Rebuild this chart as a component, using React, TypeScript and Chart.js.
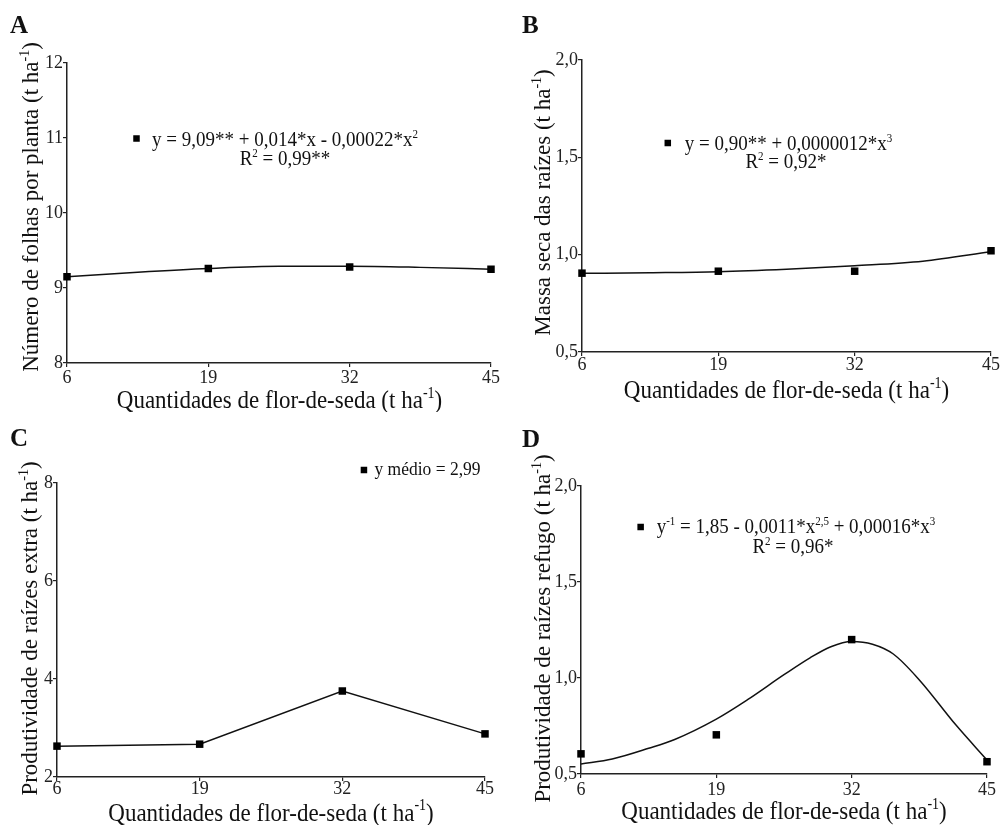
import React, { useEffect, useRef } from "react";
import Chart from "chart.js/auto";

const FONT = '"Liberation Serif", "Times New Roman", Times, serif';
const INK = "#111";

// ---- data ----
const xTicks = [6, 19, 32, 45];

const obsA = [9.15, 9.26, 9.28, 9.25];
const fitXA = [6, 12.5, 19, 25.5, 32, 38.5, 45];
const fitYA = [9.15, 9.21, 9.26, 9.29, 9.29, 9.275, 9.25];

const obsB = [0.905, 0.915, 0.915, 1.02];
const fitXB = [6, 12.5, 19, 25.5, 32, 38.5, 45];
const fitYB = [0.904, 0.907, 0.912, 0.925, 0.943, 0.966, 1.015];

const obsC = [2.63, 2.67, 3.755, 2.88];

const obsD = [0.605, 0.704, 1.2, 0.564];
const fitXD = [6, 9, 12.5, 15, 19, 22, 25.5, 28, 30, 32, 34, 36, 38.5, 42, 45];
const fitYD = [0.552, 0.578, 0.634, 0.68, 0.786, 0.887, 1.017, 1.105, 1.163, 1.19, 1.176, 1.125, 0.99, 0.756, 0.573];

const yTicksA = [8, 12, 1];
const yTicksB = [0.5, 2.0, 0.5];
const yTicksC = [2, 8, 2];
const yTicksD = [0.5, 2.0, 0.5];

// ---- texts ----
const xTitle = "Quantidades de flor-de-seda (t ha";
const yTitleA = "Número de folhas por planta (t ha";
const yTitleB = "Massa seca das raízes (t ha";
const yTitleC = "Produtividade de raízes extra (t ha";
const yTitleD = "Produtividade de raízes refugo (t ha";

type Seg = [string, number?];

const eqA: Seg[][] = [
  [["y = 9,09** + 0,014*x - 0,00022*x"], ["2", 1]],
  [["R"], ["2", 1], [" = 0,99**"]],
];
const eqB: Seg[][] = [
  [["y = 0,90** + 0,0000012*x"], ["3", 1]],
  [["R"], ["2", 1], [" = 0,92*"]],
];
const eqC: Seg[][] = [[["y médio = 2,99"]]];
const eqD: Seg[][] = [
  [["y"], ["-1", 1], [" = 1,85 - 0,0011*x"], ["2,5", 1], [" + 0,00016*x"], ["3", 1]],
  [["R"], ["2", 1], [" = 0,96*"]],
];

const panels = [
  {
    key: "A", left: 0, top: 0, w: 500, h: 412,
    pad: { left: 0, top: 63, right: 9, bottom: 0 }, yW: 67, xH: 49, xTickPad: 2,
    yr: yTicksA, dec: 0, obs: obsA, fitX: fitXA, fitY: fitYA, connect: false,
    yTitle: yTitleA, yTitleX: 38, yTitleCy: 207, xTitleCx: 279.5, xTitleY: 408,
    letterX: 10, letterY: 33,
    eq: eqA, eqSize: 19, eqCx: [285, 285], eqY: [146, 165], markerGap: 15.5, markerDy: -7.5,
  },
  {
    key: "B", left: 500, top: 0, w: 500, h: 412,
    pad: { left: 0, top: 60, right: 9, bottom: 0 }, yW: 82, xH: 60, xTickPad: 0,
    yr: yTicksB, dec: 1, obs: obsB, fitX: fitXB, fitY: fitYB, connect: false,
    yTitle: yTitleB, yTitleX: 50, yTitleCy: 202.5, xTitleCx: 286.5, xTitleY: 398,
    letterX: 22, letterY: 33,
    eq: eqB, eqSize: 19, eqCx: [288.5, 286], eqY: [150, 168], markerGap: 17, markerDy: -7,
  },
  {
    key: "C", left: 0, top: 412, w: 500, h: 413,
    pad: { left: 0, top: 71, right: 15, bottom: 0 }, yW: 57, xH: 48, xTickPad: -1,
    yr: yTicksC, dec: 0, obs: obsC, fitX: null, fitY: null, connect: true,
    yTitle: yTitleC, yTitleX: 36.5, yTitleCy: 216.5, xTitleCx: 271, xTitleY: 408.5,
    letterX: 10, letterY: 34,
    eq: eqC, eqSize: 17.5, eqCx: [427.5], eqY: [63], markerGap: 10.5, markerDy: -5,
  },
  {
    key: "D", left: 500, top: 412, w: 500, h: 413,
    pad: { left: 0, top: 74, right: 13, bottom: 0 }, yW: 81, xH: 51, xTickPad: 3,
    yr: yTicksD, dec: 1, obs: obsD, fitX: fitXD, fitY: fitYD, connect: false,
    yTitle: yTitleD, yTitleX: 50, yTitleCy: 216.5, xTitleCx: 284, xTitleY: 407.3,
    letterX: 22, letterY: 35,
    eq: eqD, eqSize: 19, eqCx: [296, 293], eqY: [121, 141], markerGap: 16, markerDy: -6,
  },
];

function drawRich(
  ctx: CanvasRenderingContext2D, segs: Seg[], cx: number, y: number,
  size: number, supSize: number, rise: number, stretch: number
) {
  const widths = segs.map(([t, sup]) => {
    ctx.font = `${sup ? supSize : size}px ${FONT}`;
    return ctx.measureText(t).width;
  });
  const total = widths.reduce((a, b) => a + b, 0);
  const x0 = cx - total / 2;
  let x = x0;
  segs.forEach(([t, sup], i) => {
    ctx.save();
    ctx.translate(x, y);
    ctx.scale(1, stretch);
    ctx.font = `${sup ? supSize : size}px ${FONT}`;
    ctx.fillText(t, 0, sup ? -rise : 0);
    ctx.restore();
    x += widths[i];
  });
  return x0;
}

function makeOverlay(p: any) {
  return {
    id: "overlay" + p.key,
    afterDraw(chart: any) {
      const ctx: CanvasRenderingContext2D = chart.ctx;
      ctx.save();
      ctx.fillStyle = INK;
      ctx.textAlign = "left";
      ctx.textBaseline = "alphabetic";
      // panel letter
      ctx.font = `bold 25px ${FONT}`;
      ctx.fillText(p.key, p.letterX, p.letterY);
      // x title
      drawRich(ctx, [[xTitle], ["-1", 1], [")"]], p.xTitleCx, p.xTitleY, 23, 14, 9, 1.12);
      // y title
      ctx.save();
      ctx.translate(p.yTitleX, p.yTitleCy);
      ctx.rotate(-Math.PI / 2);
      drawRich(ctx, [[p.yTitle], ["-1", 1], [")"]], 0, 0, 23, 14, 9, 1);
      ctx.restore();
      // equations
      p.eq.forEach((line: Seg[], i: number) => {
        const x0 = drawRich(ctx, line, p.eqCx[i], p.eqY[i], p.eqSize, 11, 7, 1.12);
        if (i === 0) {
          const s = 6.5;
          ctx.fillStyle = "#000";
          ctx.fillRect(x0 - p.markerGap - s / 2, p.eqY[i] + p.markerDy - s / 2, s, s);
          ctx.fillStyle = INK;
        }
      });
      ctx.restore();
    },
  };
}

function Panel({ p }: { p: any }) {
  const ref = useRef<HTMLCanvasElement | null>(null);
  useEffect(() => {
    if (!ref.current) return;
    const datasets: any[] = [
      {
        data: p.obs.map((y: number, i: number) => ({ x: xTicks[i], y })),
        showLine: p.connect,
        borderColor: INK,
        borderWidth: 1.5,
        tension: 0,
        pointStyle: "rect",
        pointRadius: 5.3,
        pointHoverRadius: 5.3,
        pointBackgroundColor: "#000",
        pointBorderColor: "#000",
        pointBorderWidth: 0,
        clip: false,
        order: 0,
      },
    ];
    if (p.fitX) {
      datasets.push({
        data: p.fitX.map((x: number, i: number) => ({ x, y: p.fitY[i] })),
        showLine: true,
        borderColor: INK,
        borderWidth: 1.5,
        pointRadius: 0,
        pointHoverRadius: 0,
        cubicInterpolationMode: "monotone",
        fill: false,
        order: 1,
      });
    }
    const tickFont = { size: 18, family: FONT, lineHeight: 1 };
    const gridOpts = { drawOnChartArea: false, drawTicks: true, tickLength: 4, color: "#222", lineWidth: 1.2 };
    const borderOpts = { display: true, color: "#222", width: 1.5 };
    const chart = new Chart(ref.current, {
      type: "line",
      data: { datasets },
      options: {
        responsive: false,
        animation: false,
        devicePixelRatio: 1,
        events: [],
        layout: { padding: p.pad },
        plugins: {
          legend: { display: false },
          tooltip: { enabled: false },
          title: { display: false },
        },
        scales: {
          x: {
            type: "linear",
            position: "bottom",
            min: xTicks[0],
            max: xTicks[xTicks.length - 1],
            afterBuildTicks: (s: any) => {
              s.ticks = xTicks.map((v) => ({ value: v }));
            },
            afterFit: (s: any) => {
              s.height = p.xH;
              s.paddingLeft = 0;
              s.paddingRight = 0;
            },
            ticks: {
              font: tickFont,
              color: "#222",
              padding: p.xTickPad,
              maxRotation: 0,
              autoSkip: false,
              callback: (v: any) => String(v),
            },
            grid: gridOpts,
            border: borderOpts,
          },
          y: {
            type: "linear",
            position: "left",
            min: p.yr[0],
            max: p.yr[1],
            afterFit: (s: any) => {
              s.width = p.yW;
              s.paddingTop = 0;
              s.paddingBottom = 0;
            },
            ticks: {
              stepSize: p.yr[2],
              font: tickFont,
              color: "#222",
              padding: 0,
              callback: (v: any) =>
                p.dec ? Number(v).toFixed(1).replace(".", ",") : String(Math.round(Number(v))),
            },
            grid: gridOpts,
            border: borderOpts,
          },
        },
      } as any,
      plugins: [makeOverlay(p)],
    });
    return () => chart.destroy();
  }, [p]);
  return (
    <div style={{ position: "absolute", left: p.left, top: p.top, width: p.w, height: p.h }}>
      <canvas ref={ref} width={p.w} height={p.h} style={{ display: "block" }} />
    </div>
  );
}

export default function App() {
  return (
    <div
      style={{
        position: "absolute",
        left: 0,
        top: 0,
        width: 1000,
        height: 825,
        background: "#fff",
        overflow: "hidden",
      }}
    >
      {panels.map((p) => (
        <Panel key={p.key} p={p} />
      ))}
    </div>
  );
}
